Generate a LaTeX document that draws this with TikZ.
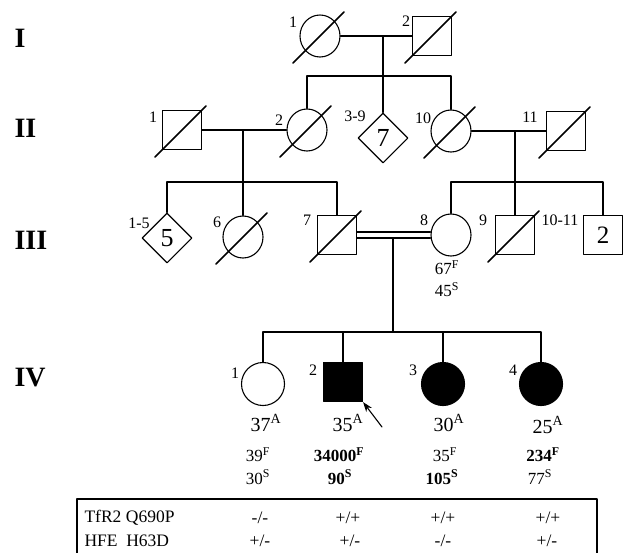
\documentclass[tikz,border=0pt]{standalone}
\usepackage{fontspec}
\setmainfont{Liberation Serif}
\usetikzlibrary{shapes.geometric,arrows.meta}

% slash through a deceased member
\newcommand\deceased[1]{\draw[line width=1.7pt] (#1.center) ++(-27,27) -- ++(51,-51);}

\begin{document}
\begin{tikzpicture}[x=1pt,y=-1pt,line cap=round,line join=round,line width=1.1pt,
    every node/.style={inner sep=0pt},
    male/.style={draw,rectangle,minimum size=39pt},
    female/.style={draw,ellipse,minimum width=40pt,minimum height=42pt},
    unk/.style={draw,diamond,minimum size=50pt,font=\fontsize{26}{26}\selectfont},
    aff/.style={fill=black},
    num/.style={font=\fontsize{16}{16}\selectfont},
    gen/.style={font=\fontsize{28}{28}\selectfont\bfseries,anchor=west},
    age/.style={font=\fontsize{20}{20}\selectfont},
    val/.style={font=\fontsize{17}{17}\selectfont},
    tab/.style={font=\fontsize{17.5}{17.5}\selectfont}]
  \clip (0,0) rectangle (626,552);

  % generations
  \node[gen] (g1) at (14,38) {I};
  \node[gen] (g2) at (14,128) {II};
  \node[gen] (g3) at (14,240) {III};
  \node[gen] (g4) at (14,378) {IV};

  % generation I
  \node[female] (i1) at (320,36) {};
  \node[male] (i2) at (432,36) {};
  \node[num] (i1n) at (293,22) {1};
  \node[num] (i2n) at (406,21) {2};
  \deceased{i1} \deceased{i2}
  \coordinate (m1) at (383,36);
  \coordinate (s1) at (383,76);
  \draw (i1) -- (i2);

  % generation II
  \node[male] (ii1) at (182,130) {};
  \node[female] (ii2) at (307,130) {};
  \node[unk] (ii3) at (383,138) {7};
  \node[female] (ii10) at (451,131) {};
  \node[male] (ii11) at (566,131) {};
  \node[num] (ii1n) at (153,117) {1};
  \node[num] (ii2n) at (279,120) {2};
  \node[num] (ii3n) at (355,116) {3-9};
  \node[num] (ii10n) at (423,118) {10};
  \node[num] (ii11n) at (530,117) {11};
  \deceased{ii1} \deceased{ii2} \deceased{ii10} \deceased{ii11}
  \draw (m1) -- (ii3.north);
  \draw (ii2.north) |- (s1) -| (ii10.north);
  \draw (ii1) -- (ii2);
  \draw (ii10) -- (ii11);
  \coordinate (m2) at (243,130);
  \coordinate (s2) at (243,182);
  \coordinate (m3) at (515,131);
  \coordinate (s3) at (515,182);

  % generation III
  \node[unk] (iii1) at (167,238) {5};
  \node[female] (iii6) at (243,237) {};
  \node[male] (iii7) at (337,235) {};
  \node[female] (iii8) at (451,235) {};
  \node[male] (iii9) at (515,235) {};
  \node[male,font=\fontsize{25}{25}\selectfont] (iii10) at (603,235) {2};
  \node[num] (iii1n) at (139,223) {1-5};
  \node[num] (iii6n) at (217,222) {6};
  \node[num] (iii7n) at (307,220) {7};
  \node[num] (iii8n) at (424,220) {8};
  \node[num] (iii9n) at (483,220) {9};
  \node[num] (iii10n) at (560,220) {10-11};
  \deceased{iii6} \deceased{iii7} \deceased{iii9}
  \draw (m2) -- (iii6.north);
  \draw (iii1.north) |- (s2) -| (iii7.north);
  \draw (m3) -- (iii9.north);
  \draw (iii8.north) |- (s3) -| (iii10.north);
  \draw ([yshift=3pt]iii7.east) -- ([yshift=3pt]iii8.west);
  \draw ([yshift=-3pt]iii7.east) -- ([yshift=-3pt]iii8.west);
  \node[val] (f8) at (447,268) {67\textsuperscript{F}};
  \node[val] (s8) at (447,290) {45\textsuperscript{S}};
  \coordinate (m4) at (393,238);
  \coordinate (s4) at (393,332);

  % generation IV
  \node[female,minimum width=43pt,minimum height=43pt] (iv1) at (263,384) {};
  \node[male,aff] (iv2) at (343,382) {};
  \node[female,aff,minimum width=43pt,minimum height=43pt] (iv3) at (443,384) {};
  \node[female,aff,minimum width=43pt,minimum height=43pt] (iv4) at (541,384) {};
  \node[num] (iv1n) at (235,373) {1};
  \node[num] (iv2n) at (313,370) {2};
  \node[num] (iv3n) at (413,370) {3};
  \node[num] (iv4n) at (513,370) {4};
  \draw (m4) -- (s4);
  \draw (iv1.north) |- (s4) -| (iv4.north);
  \draw (iv2.north) -- (iv2.north |- s4);
  \draw (iv3.north) -- (iv3.north |- s4);
  \coordinate (pb) at (382,427);
  \draw[-{Stealth[length=10pt,width=7pt]}] (pb) -- (iv2.south east);

  \node[age] (a1) at (266,423) {37\textsuperscript{A}};
  \node[age] (a2) at (348,423) {35\textsuperscript{A}};
  \node[age] (a3) at (449,423) {30\textsuperscript{A}};
  \node[age] (a4) at (548,425) {25\textsuperscript{A}};

  \node[val] (f1) at (258,455) {39\textsuperscript{F}};
  \node[val] (sr1) at (258,477) {30\textsuperscript{S}};
  \node[val] (f2) at (339,455) {\textbf{34000\textsuperscript{F}}};
  \node[val] (sr2) at (340,477) {\textbf{90\textsuperscript{S}}};
  \node[val] (f3) at (445,455) {35\textsuperscript{F}};
  \node[val] (sr3) at (442,477) {\textbf{105\textsuperscript{S}}};
  \node[val] (f4) at (543,455) {\textbf{234\textsuperscript{F}}};
  \node[val] (sr4) at (540,477) {77\textsuperscript{S}};

  % genotype table
  \draw[line width=2pt] (77,499) rectangle (597,575);
  \node[tab,anchor=west] (t1) at (84,518) {TfR2 Q690P};
  \node[tab,anchor=west] (t2) at (84,541) {HFE\ \ H63D};
  \node[tab] (t11) at (260,518) {-/-};
  \node[tab] (t21) at (260,541) {+/-};
  \node[tab] (t12) at (348,518) {+/+};
  \node[tab] (t22) at (350,541) {+/-};
  \node[tab] (t13) at (443,518) {+/+};
  \node[tab] (t23) at (443,541) {-/-};
  \node[tab] (t14) at (548,518) {+/+};
  \node[tab] (t24) at (547,541) {+/-};
\end{tikzpicture}
\end{document}
